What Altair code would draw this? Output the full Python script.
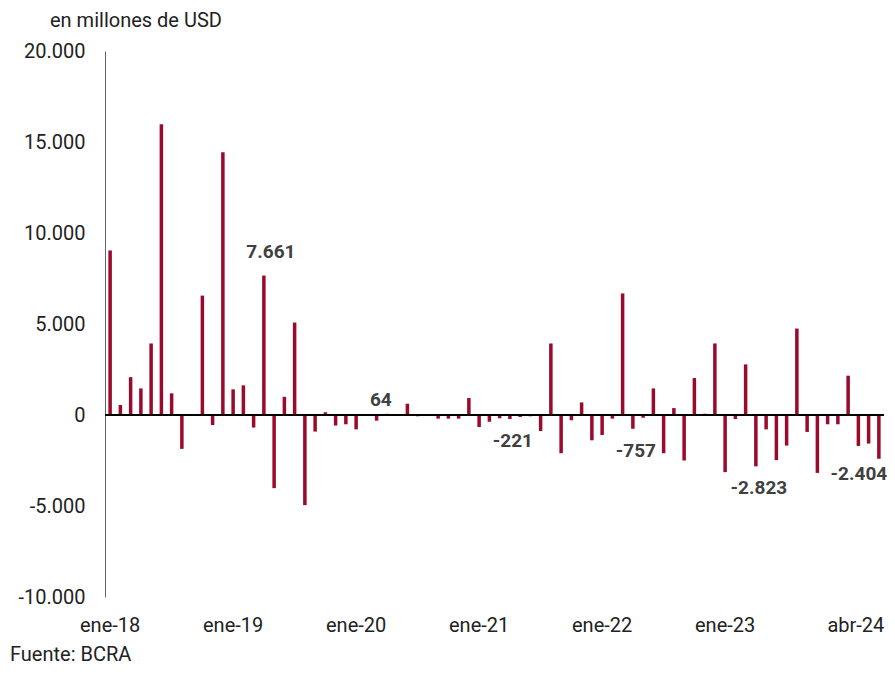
import altair as alt
import pandas as pd

# ---- data ----
month_names = ["ene", "feb", "mar", "abr", "may", "jun", "jul", "ago", "sep", "oct", "nov", "dic"]
years = ["18", "19", "20", "21", "22", "23", "24"]
months = [f"{m}-{y}" for y in years for m in month_names][:76]

values = [
    9040, 550, 2080, 1460, 3930, 15980, 1190, -1860, 0, 6560, -550, 14430,
    1410, 1630, -690, 7661, -4020, 1000, 5080, -4950, -910, 150, -580, -510,
    -790, 0, -310, 64, 50, 620, -70, 0, -200, -200, -200, 930,
    -660, -370, -180, -221, -110, -70, -880, 3930, -2100, -290, 690, -1390,
    -1100, -200, 6680, -757, -150, 1460, -2100, 380, -2500, 2030, 70, 3930,
    -3140, -220, 2780, -2823, -790, -2480, -1680, 4750, -930, -3180, -510, -510,
    2160, -1700, -1570, -2404,
]

label_months = ["abr-19", "abr-20", "abr-21", "abr-22", "abr-23", "abr-24"]
label_values = [7661, 64, -221, -757, -2823, -2404]

x_tick_labels = ["ene-18", "ene-19", "ene-20", "ene-21", "ene-22", "ene-23", "abr-24"]
y_ticks = [-10000, -5000, 0, 5000, 10000, 15000, 20000]

title_text = "en millones de USD"
source_text = "Fuente: BCRA"

df = pd.DataFrame({"mes": months, "v": values})
lab = pd.DataFrame({"mes": label_months, "v": label_values})

FONT = "Roboto"
BAR = "#990A2C"
W, H = 779, 546

xscale = alt.Scale(domain=months, paddingInner=0, paddingOuter=0)
yscale = alt.Scale(domain=[-10000, 20000], nice=False, zero=False)

x_enc = alt.X(
    "mes:N", sort=None, scale=xscale, title=None,
    axis=alt.Axis(
        values=x_tick_labels, domain=False, ticks=False, labelAngle=0,
        labelFont=FONT, labelFontSize=20, labelColor="#222222", labelPadding=18,
        labelOffset={"condition": {"test": "datum.value === 'abr-24'", "value": -23}, "value": 0},
    ),
)
y_enc = alt.Y(
    "v:Q", scale=yscale, title=None,
    axis=alt.Axis(
        values=y_ticks, format=",d", grid=False, ticks=False, domain=True,
        domainColor="#666666", domainWidth=1,
        labelFont=FONT, labelFontSize=20, labelColor="#222222", labelPadding=20,
    ),
)

bars = alt.Chart(df).mark_bar(size=3.5, color=BAR).encode(x=x_enc, y=y_enc)

zero = alt.Chart(df).mark_rule(color="#000000", strokeWidth=1.5).encode(y=alt.datum(0))

lab_style = dict(font=FONT, fontSize=19, fontWeight="bold", color="#404040")
lx = alt.X("mes:N", sort=None, scale=xscale)
ly = alt.Y("v:Q", scale=yscale)
lt = alt.Text("v:Q", format=",d")


def label_layer(test, baseline, dx, dy):
    return alt.Chart(lab).transform_filter(test).mark_text(
        baseline=baseline, dx=dx, dy=dy, **lab_style
    ).encode(x=lx, y=ly, text=lt)


big_pos = label_layer("datum.v > 1000", "alphabetic", 7, -18)
small_pos = label_layer("datum.v > 0 && datum.v <= 1000", "alphabetic", -6, -8)
negs = label_layer("datum.v < 0 && datum.mes !== 'abr-24'", "top", 3, 13)
last = label_layer("datum.mes === 'abr-24'", "top", -20, 6)

title = alt.Chart(pd.DataFrame({"t": [title_text]})).mark_text(
    align="left", baseline="alphabetic", font=FONT, fontSize=20, color="#222222"
).encode(x=alt.value(-55), y=alt.value(-24), text="t:N")

source = alt.Chart(pd.DataFrame({"t": [source_text]})).mark_text(
    align="left", baseline="alphabetic", font=FONT, fontSize=20, color="#222222"
).encode(x=alt.value(-95), y=alt.value(610), text="t:N")

chart = (
    alt.layer(bars, zero, big_pos, small_pos, negs, last, title, source)
    .properties(
        width=W, height=H,
        autosize=alt.AutoSizeParams(type="none"),
        padding={"left": 97, "top": 43, "right": 3, "bottom": 69},
    )
    .configure(locale={"number": {"decimal": ",", "thousands": ".", "grouping": [3],
                                   "currency": ["$", ""], "minus": "-"}})
    .configure_view(strokeWidth=0, stroke=None)
)

chart.save("out.html", embed_options={"renderer": "svg", "actions": False})
